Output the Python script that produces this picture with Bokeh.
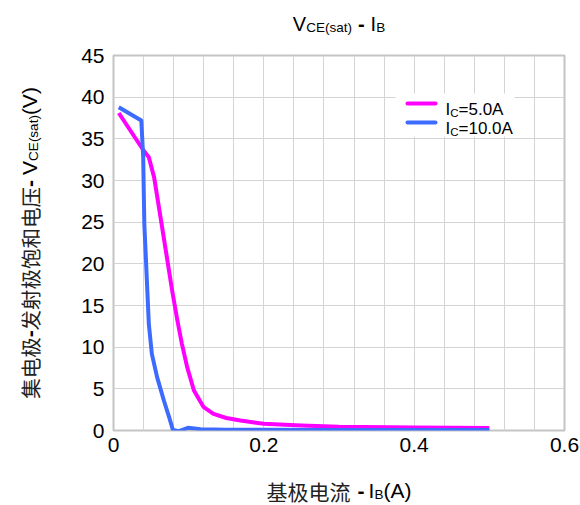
import math
from bokeh.plotting import figure
from bokeh.layouts import column, row
from bokeh.models import Range1d, FixedTicker, Label
from bokeh.embed import file_html
from bokeh.resources import INLINE

# ---------------- data ----------------
ib_5a = [0.007, 0.040, 0.047, 0.054, 0.0625, 0.071, 0.078, 0.085, 0.091, 0.098,
         0.107, 0.120, 0.133, 0.150, 0.169, 0.20, 0.25, 0.30, 0.40, 0.50]
vce_5a = [38.1, 33.6, 32.8, 30.4, 25.6, 20.8, 16.8, 13.2, 10.4, 7.6,
          4.8, 2.8, 2.0, 1.5, 1.2, 0.8, 0.6, 0.45, 0.35, 0.3]

ib_10a = [0.007, 0.037, 0.0395, 0.041, 0.044, 0.047, 0.051, 0.058, 0.067, 0.074,
          0.079, 0.087, 0.099, 0.116, 0.15, 0.20, 0.30, 0.40, 0.50]
vce_10a = [38.8, 37.2, 32.8, 24.8, 18.8, 12.8, 9.2, 6.4, 3.6, 1.6,
           0.08, -0.08, 0.32, 0.16, 0.1, 0.08, 0.06, 0.05, 0.05]

x_ticks = [0, 0.2, 0.4, 0.6]
x_tick_labels = ["0", "0.2", "0.4", "0.6"]
y_ticks = [0, 5, 10, 15, 20, 25, 30, 35, 40, 45]
x_grid = [0, 0.04, 0.08, 0.12, 0.16, 0.2, 0.24, 0.28, 0.32, 0.36,
          0.4, 0.44, 0.48, 0.52, 0.56, 0.6]
series_names = [("I", "C", "=5.0A"), ("I", "C", "=10.0A")]
series_colors = ["#FF00FF", "#3D6BFF"]

# ---------------- layout (canvas pixels) ----------------
W, H = 580, 505
FL, FT, FW, FH = 113, 55, 451, 375      # plot frame on the canvas
TOP_H = 40                              # title strip
LEFT_W = 45                             # y-title strip
BOT_H = 44                              # x-title strip
MAIN_H = H - TOP_H - BOT_H
X0, X1, Y0, Y1 = 0, 0.6, 0, 45
LATIN = "Liberation Sans"
CJK = "Noto Sans CJK SC"

def dx(cx):
    return X0 + (cx - FL) / FW * (X1 - X0)

def dy(cy):
    return Y0 + (FT + FH - cy) / FH * (Y1 - Y0)

ARIAL = {'V': 0.667, 'C': 0.722, 'E': 0.667, '(': 0.333, ')': 0.333, 's': 0.5,
         'a': 0.556, 't': 0.278, '-': 0.333, ' ': 0.278, 'I': 0.278, 'B': 0.667,
         'A': 0.667, '=': 0.584, '.': 0.278}

def tw(text, size, font):
    if font == CJK:
        return len(text) * size
    return sum(ARIAL.get(ch, 0.556) for ch in text) * size

def total(pieces):
    return sum(tw(t, s, f) + g for t, s, f, o, b, g in pieces)

# ---------------- main plot ----------------
p = figure(width=W - LEFT_W, height=MAIN_H,
           x_range=Range1d(X0, X1), y_range=Range1d(Y0, Y1),
           output_backend="svg", toolbar_location=None, title=None,
           min_border_left=FL - LEFT_W, min_border_right=W - FL - FW,
           min_border_top=FT - TOP_H, min_border_bottom=TOP_H + MAIN_H - FT - FH)
p.background_fill_color = "white"
p.border_fill_color = "white"
p.outline_line_color = "#c4c4c4"
p.outline_line_width = 2

p.xaxis.ticker = FixedTicker(ticks=x_ticks)
p.xaxis.major_label_overrides = dict(zip(x_ticks, x_tick_labels))
p.yaxis.ticker = FixedTicker(ticks=y_ticks)
for ax in (p.xaxis, p.yaxis):
    ax.axis_line_color = None
    ax.major_tick_line_color = None
    ax.minor_tick_line_color = None
    ax.major_tick_out = 0
    ax.major_tick_in = 0
    ax.major_label_text_font = LATIN
    ax.major_label_text_font_size = "21px"
    ax.major_label_text_color = "black"
p.xaxis.major_label_standoff = 7
p.yaxis.major_label_standoff = 9

p.xgrid.ticker = FixedTicker(ticks=x_grid)
p.ygrid.ticker = FixedTicker(ticks=y_ticks)
p.grid.grid_line_color = "#d4d4d4"
p.grid.grid_line_width = 1

p.line(ib_5a, vce_5a, line_color=series_colors[0], line_width=4, line_join="round")
p.line(ib_10a, vce_10a, line_color=series_colors[1], line_width=4, line_join="round")

# legend
p.quad(left=[dx(395)], right=[dx(514)], top=[dy(93)], bottom=[dy(136)],
       fill_color="white", line_color=None)
for i, color in enumerate(series_colors):
    ly = 103 + i * 19
    p.segment(x0=[dx(407)], x1=[dx(435)], y0=[dy(ly)], y1=[dy(ly)],
              line_color=color, line_width=4, line_cap="round")

def label(fig, x, y, text, size, font=LATIN, bold=False, angle=0.0):
    fig.add_layout(Label(x=x, y=y, text=text, text_font=font,
                         text_font_size=f"{size}px",
                         text_color="#222222" if font == CJK else "black",
                         text_font_style="bold" if bold else "normal",
                         text_align="left", text_baseline="alphabetic",
                         angle=angle))

for i, (a, b, c) in enumerate(series_names):
    base = 109 + i * 19
    cx = 445
    for text, size, off in [(a, 17, 0), (b, 11.5, 3), (c, 17, 0)]:
        label(p, dx(cx), dy(base + off), text, size)
        cx += tw(text, size, LATIN)

# ---------------- helper strips (coordinates = canvas pixels) ----------------
def strip(w, h, y_top, y_bottom):
    f = figure(width=w, height=h, x_range=Range1d(0, w),
               y_range=Range1d(y_bottom, y_top),
               output_backend="svg", toolbar_location=None, title=None,
               x_axis_location=None, y_axis_location=None, min_border=0)
    f.outline_line_color = None
    f.grid.visible = False
    f.background_fill_color = "white"
    f.border_fill_color = "white"
    return f

def hrun(fig, pieces, cx, cy):
    for text, size, font, off, bold, gap in pieces:
        label(fig, cx, cy + off, text, size, font, bold)
        cx += tw(text, size, font) + gap

# title
top = strip(W, TOP_H, 0, TOP_H)
title_pieces = [("V", 20, LATIN, 0, False, 0), ("CE(sat)", 13.5, LATIN, 3.5, False, 6),
                ("-", 20, LATIN, 0, True, 6), ("I", 20, LATIN, 0, False, 0),
                ("B", 13.5, LATIN, 3.5, False, 0)]
hrun(top, title_pieces, FL + FW / 2 - total(title_pieces) / 2, 23)

# x-axis title
bottom = strip(W, BOT_H, H - BOT_H, H)
xt_pieces = [("基极电流", 21, CJK, 0, False, 7), ("-", 21, LATIN, 0, True, 4),
             ("I", 21, LATIN, 0, False, 0), ("B", 13.5, LATIN, 3.5, False, 0),
             ("(A)", 21, LATIN, 0, False, 0)]
hrun(bottom, xt_pieces, FL + FW / 2 - total(xt_pieces) / 2, 490)

# y-axis title strip: its frame is aligned with the main plot's frame in the row
left = strip(LEFT_W, MAIN_H, FT, FT + FH)
yt_pieces = [("集电极", 20.5, CJK, 0, False, 0), ("-", 21, LATIN, 0, True, 0),
             ("发射极饱和电压", 20.5, CJK, 0, False, 0), ("-", 21, LATIN, 0, True, 5),
             ("V", 21, LATIN, 0, False, 0), ("CE(sat)", 13.5, LATIN, 3.5, False, 0),
             ("(V)", 21, LATIN, 0, False, 0)]
cy = FT + FH / 2 + total(yt_pieces) / 2
for text, size, font, off, bold, gap in yt_pieces:
    label(left, 29 + off, cy, text, size, font, bold, angle=math.pi / 2)
    cy -= tw(text, size, font) + gap

layout = column(top, row(left, p, spacing=0), bottom, spacing=0)
open("out.html", "w").write(file_html(layout, INLINE))
